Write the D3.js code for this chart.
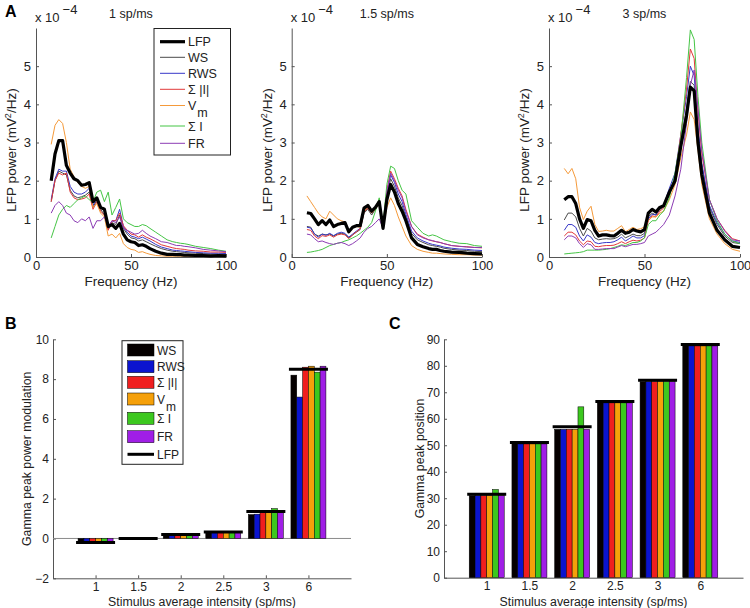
<!DOCTYPE html>
<html lang="en">
<head>
<meta charset="UTF-8" />
<title>LFP power spectra and gamma peak</title>
<script src="https://d3js.org/d3.v7.min.js"></script>
<style>
  body { margin: 0; background: #fff; }
  svg { font-family: "Liberation Sans", Arial, sans-serif; }
</style>
</head>
<body>
<svg width="750" height="608"></svg>
<script>
// frequencies (Hz) for panel A spectra, power in units of 1e-4 mV^2/Hz
const freqs = [8,10,12,14,16,18,20,22,24,26, 28,30,32,34,36,38,40,42,44,46,
  48,50,52,54,56,58,60,63,66,69, 72,74,76,78,80,84,88,92,96,100];

// 1 sp/ms
const lfp1  = [2.0,2.7,3.05,3.05,2.4,2.2,2.05,2.0,1.88,1.9, 1.95,1.45,1.55,1.3,1.25,0.8,0.85,0.75,0.88,0.6, 0.45,0.4,0.38,0.3,0.32,0.28,0.22,0.15,0.1,0.07, 0.07,0.06,0.06,0.05,0.05,0.04,0.04,0.03,0.04,0.03];
const ws1   = [1.45,2.0,2.25,2.2,2.15,1.75,1.6,1.55,1.58,1.62, 1.7,1.3,1.5,1.25,1.1,0.72,0.9,0.85,1.1,0.75, 0.6,0.5,0.48,0.42,0.45,0.4,0.35,0.28,0.22,0.18, 0.15,0.14,0.13,0.12,0.11,0.1,0.09,0.08,0.08,0.07];
const rws1  = [1.5,2.05,2.3,2.25,2.25,1.85,1.7,1.65,1.65,1.7, 1.8,1.35,1.55,1.3,1.2,0.75,0.95,0.95,1.25,0.8, 0.65,0.55,0.52,0.48,0.52,0.47,0.42,0.33,0.26,0.22, 0.18,0.17,0.16,0.15,0.14,0.12,0.11,0.1,0.1,0.09];
const absI1 = [1.45,2.0,2.2,2.15,2.2,1.7,1.55,1.5,1.52,1.55, 1.65,1.25,1.45,1.2,1.1,0.7,0.95,0.95,1.15,0.82, 0.7,0.6,0.58,0.52,0.58,0.52,0.48,0.4,0.32,0.28, 0.24,0.22,0.21,0.2,0.18,0.16,0.15,0.13,0.13,0.12];
const vm1   = [2.95,3.45,3.6,3.5,3.0,2.3,2.1,1.95,1.85,1.8, 1.85,1.3,1.4,1.15,1.05,0.55,0.6,0.5,0.62,0.35, 0.25,0.2,0.18,0.12,0.14,0.1,0.07,0.04,0.03,0.02, 0.02,0.02,0.02,0.02,0.02,0.02,0.02,0.02,0.02,0.02];
const sumI1 = [0.5,0.8,1.1,1.25,1.35,1.3,1.4,1.5,1.55,1.6, 1.5,1.45,1.7,1.75,1.45,1.7,1.1,1.3,1.52,1.0, 0.9,0.85,0.8,0.8,0.85,0.82,0.75,0.65,0.55,0.45, 0.4,0.38,0.36,0.35,0.33,0.28,0.25,0.22,0.18,0.15];
const fr1   = [1.15,1.35,1.45,1.35,1.15,1.1,0.95,0.9,1.0,0.95, 1.05,0.75,0.95,0.95,1.05,0.8,0.95,0.9,1.05,0.75, 0.7,0.65,0.6,0.62,0.7,0.62,0.55,0.48,0.4,0.38, 0.33,0.3,0.3,0.28,0.27,0.24,0.2,0.18,0.16,0.14];

// 1.5 sp/ms
const lfp15  = [1.16,1.14,1.0,0.85,0.95,0.85,0.97,0.8,0.85,0.88, 0.9,0.66,0.78,0.82,0.82,1.28,1.35,1.2,1.3,1.45, 0.75,1.5,1.9,1.7,1.4,1.2,0.95,0.5,0.33,0.27, 0.22,0.2,0.2,0.17,0.15,0.13,0.12,0.1,0.09,0.08];
const ws15   = [0.8,0.78,0.6,0.55,0.6,0.58,0.6,0.55,0.6,0.62, 0.6,0.5,0.58,0.65,0.72,1.15,1.25,1.1,1.25,1.4, 0.78,1.6,2.05,1.85,1.55,1.35,1.05,0.62,0.45,0.38, 0.32,0.3,0.28,0.26,0.23,0.2,0.18,0.17,0.15,0.14];
const rws15  = [0.78,0.76,0.6,0.52,0.6,0.57,0.62,0.56,0.62,0.65, 0.62,0.52,0.6,0.68,0.75,1.2,1.28,1.15,1.3,1.45, 0.8,1.65,2.15,1.95,1.65,1.45,1.12,0.68,0.5,0.42, 0.36,0.33,0.31,0.29,0.26,0.23,0.21,0.2,0.18,0.17];
const absI15 = [0.72,0.7,0.55,0.48,0.56,0.54,0.58,0.52,0.58,0.6, 0.58,0.48,0.58,0.66,0.74,1.18,1.28,1.15,1.32,1.5, 0.82,1.75,2.25,2.05,1.8,1.6,1.25,0.8,0.6,0.52, 0.45,0.42,0.4,0.38,0.35,0.3,0.28,0.27,0.25,0.24];
const vm15   = [1.6,1.45,1.3,1.15,1.05,1.0,1.2,1.1,1.0,0.95, 0.92,0.7,0.78,0.8,0.78,1.2,1.3,1.15,1.25,1.4, 0.75,1.3,1.55,1.35,1.05,0.8,0.55,0.3,0.2,0.15, 0.12,0.1,0.1,0.09,0.08,0.07,0.06,0.06,0.05,0.05];
const sumI15 = [0.12,0.13,0.15,0.17,0.2,0.25,0.3,0.33,0.36,0.38, 0.42,0.45,0.5,0.55,0.62,0.7,0.78,0.9,1.2,1.55, 0.85,1.9,2.38,2.32,2.0,1.75,1.65,0.95,0.78,0.62, 0.55,0.58,0.55,0.5,0.45,0.4,0.36,0.35,0.3,0.28];
const fr15   = [0.6,0.58,0.48,0.4,0.42,0.38,0.35,0.33,0.36,0.38, 0.35,0.3,0.35,0.42,0.5,0.65,0.75,0.8,0.9,1.0, 0.75,1.7,2.2,2.0,1.75,1.55,1.2,0.8,0.58,0.5, 0.45,0.43,0.4,0.38,0.35,0.3,0.28,0.26,0.25,0.25];

// 3 sp/ms
const lfp3  = [1.5,1.58,1.58,1.4,1.0,0.75,0.98,0.95,0.7,0.55, 0.58,0.58,0.56,0.55,0.62,0.7,0.62,0.65,0.72,0.68, 0.66,0.72,1.15,1.25,1.18,1.3,1.34,1.7,2.0,2.9, 3.7,4.45,4.35,3.0,2.15,1.15,0.7,0.45,0.28,0.25];
const ws3   = [0.97,1.15,1.15,1.05,0.75,0.55,0.75,0.68,0.5,0.45, 0.47,0.48,0.47,0.48,0.52,0.6,0.5,0.55,0.6,0.56, 0.56,0.62,1.05,1.15,1.1,1.25,1.3,1.65,2.0,3.0, 3.9,4.6,4.5,3.3,2.4,1.3,0.85,0.55,0.38,0.35];
const rws3  = [0.7,0.85,0.85,0.78,0.55,0.42,0.58,0.52,0.38,0.35, 0.37,0.38,0.38,0.4,0.45,0.52,0.42,0.48,0.55,0.5, 0.5,0.56,1.0,1.12,1.1,1.28,1.35,1.8,2.2,3.2, 4.2,5.0,4.75,3.4,2.45,1.35,0.9,0.6,0.42,0.38];
const absI3 = [0.55,0.65,0.65,0.58,0.42,0.32,0.42,0.4,0.28,0.27, 0.29,0.3,0.3,0.31,0.35,0.4,0.35,0.4,0.44,0.42, 0.44,0.5,0.95,1.08,1.05,1.2,1.28,1.65,2.1,3.2, 4.4,5.45,5.2,3.8,2.7,1.5,1.0,0.7,0.48,0.42];
const vm3   = [2.32,2.18,2.32,2.05,1.3,0.98,1.2,1.33,0.85,0.67, 0.68,0.7,0.68,0.68,0.75,0.82,0.66,0.72,0.78,0.72, 0.74,0.79,0.95,1.05,1.05,1.15,1.2,1.5,1.9,2.6, 3.2,3.8,3.6,2.8,1.9,1.0,0.6,0.35,0.2,0.15];
const sumI3 = [0.08,0.09,0.1,0.11,0.12,0.14,0.18,0.18,0.18,0.18, 0.19,0.2,0.22,0.25,0.28,0.32,0.3,0.34,0.38,0.38, 0.42,0.5,0.85,0.95,0.95,1.1,1.2,1.55,2.2,3.1, 4.7,5.95,5.7,4.2,3.0,1.5,0.95,0.6,0.42,0.35];
const fr3   = [0.45,0.55,0.55,0.5,0.35,0.25,0.35,0.32,0.2,0.2, 0.21,0.22,0.22,0.22,0.26,0.3,0.27,0.3,0.33,0.33, 0.35,0.38,0.55,0.6,0.65,0.75,0.85,1.1,1.6,2.3, 3.5,4.5,4.9,3.9,2.8,1.5,1.0,0.68,0.45,0.42];

// panels B and C
const intensities = ["1", "1.5", "2", "2.5", "3", "6"];
const proxyNames = ["WS", "RWS", "absI", "Vm", "sumI", "FR"];

const modWS   = [-0.22, 0.02, 0.15, 0.3, 1.2, 8.2];
const modRWS  = [-0.22, 0.02, 0.15, 0.3, 1.22, 7.1];
const modAbsI = [-0.26, 0.03, 0.18, 0.32, 1.4, 8.6];
const modVm   = [-0.2, 0.03, 0.25, 0.35, 1.4, 8.65];
const modSumI = [-0.15, 0.03, 0.2, 0.32, 1.5, 8.35];
const modFR   = [-0.2, 0.03, 0.25, 0.33, 1.4, 8.65];
const modLFP  = [-0.2, 0.0, 0.2, 0.33, 1.35, 8.5];

const posWS   = [31, 50.5, 56, 66, 74, 87.5];
const posRWS  = [31, 50.5, 56, 66, 74, 87.5];
const posAbsI = [31, 50.5, 56, 66, 74, 87.5];
const posVm   = [31, 50.5, 56, 66, 74, 87.5];
const posSumI = [33.3, 50.5, 64.5, 66, 74, 87.5];
const posFR   = [31, 50.5, 56, 66, 74, 87.5];
const posLFP  = [31.5, 51, 57, 66.5, 74.5, 88];

const lineColors = { LFP: "#000", WS: "#4a4a4a", RWS: "#3838c8", absI: "#e23a3a", Vm: "#f59a3a", sumI: "#45c545", FR: "#8c3cb4" };
const barColors = { WS: "#050000", RWS: "#0b14cf", absI: "#f01e1e", Vm: "#f5a00a", sumI: "#3cc81e", FR: "#a01ee6" };

const svg = d3.select("svg");
const axisColor = "#555";
const textColor = "#222";

function styleAxis(size) {
  return g => {
    g.select(".domain").attr("stroke", axisColor);
    g.selectAll(".tick line").attr("stroke", axisColor);
    g.selectAll(".tick text").attr("fill", textColor).style("font-size", size);
  };
}

// legend label with Σ / subscript m
function labelText(sel, name) {
  if (name === "Vm") {
    sel.text("V");
    sel.append("tspan").attr("dy", 7).attr("dx", 1).text("m");
  } else if (name === "absI") sel.text("\u03A3 |I|");
  else if (name === "sumI") sel.text("\u03A3 I");
  else sel.text(name);
}

// ---------- panel A ----------
const yA = d3.scaleLinear().domain([0, 6]).range([257, 28]);

const aPanels = [
  { left: 36, right: 226, title: "1 sp/ms",
    series: { WS: ws1, RWS: rws1, absI: absI1, Vm: vm1, sumI: sumI1, FR: fr1, LFP: lfp1 }, legend: true },
  { left: 291.7, right: 482, title: "1.5 sp/ms",
    series: { WS: ws15, RWS: rws15, absI: absI15, Vm: vm15, sumI: sumI15, FR: fr15, LFP: lfp15 } },
  { left: 549, right: 740, title: "3 sp/ms",
    series: { WS: ws3, RWS: rws3, absI: absI3, Vm: vm3, sumI: sumI3, FR: fr3, LFP: lfp3 } }
];

aPanels.forEach(p => {
  const x = d3.scaleLinear().domain([0, 100]).range([p.left, p.right]);
  const g = svg.append("g");

  g.append("g").attr("transform", `translate(${p.left},0)`)
    .call(d3.axisLeft(yA).tickValues([0, 1, 2, 3, 4, 5]).tickFormat(d3.format("d"))
      .tickSize(-3).tickSizeOuter(0).tickPadding(5))
    .call(styleAxis("13px"));
  g.append("g").attr("transform", `translate(0,${yA(0)})`)
    .call(d3.axisBottom(x).tickValues([0, 50, 100]).tickSize(-3).tickSizeOuter(0).tickPadding(4))
    .call(styleAxis("13px"));

  const line = d3.line().x((d, i) => x(freqs[i])).y(d => yA(d));
  ["WS", "RWS", "absI", "Vm", "sumI", "FR", "LFP"].forEach(k => {
    g.append("path").datum(p.series[k])
      .attr("d", line).attr("fill", "none")
      .attr("stroke", lineColors[k])
      .attr("stroke-width", k === "LFP" ? 3.2 : 1)
      .attr("stroke-linejoin", "round");
  });

  // exponent
  const ex = g.append("text").attr("x", p.left - 1).attr("y", 22)
    .attr("fill", textColor).style("font-size", "13px").text("x 10");
  ex.append("tspan").attr("dy", -8).attr("dx", 3).text("\u22124");

  g.append("text").attr("x", (p.left + p.right) / 2).attr("y", 18)
    .attr("text-anchor", "middle").attr("fill", textColor).style("font-size", "12.5px").text(p.title);

  g.append("text").attr("x", (p.left + p.right) / 2).attr("y", 286)
    .attr("text-anchor", "middle").attr("fill", textColor).style("font-size", "13.5px").text("Frequency (Hz)");

  const yl = g.append("text").attr("transform", `translate(${p.left - 20},150) rotate(-90)`)
    .attr("text-anchor", "middle").attr("fill", textColor).style("font-size", "13.5px").text("LFP power (mV");
  yl.append("tspan").attr("dy", -5).style("font-size", "9px").text("2");
  yl.append("tspan").attr("dy", 5).text("/Hz)");

  if (p.legend) {
    const lg = g.append("g");
    lg.append("rect").attr("x", 154).attr("y", 28.5).attr("width", 76.5).attr("height", 126.5)
      .attr("fill", "#fff").attr("stroke", "#222").attr("stroke-width", 1);
    const order = ["LFP", "WS", "RWS", "absI", "Vm", "sumI", "FR"];
    const ys = [41.7, 57.3, 73.3, 89.3, 105.5, 126, 143.3];
    order.forEach((k, i) => {
      lg.append("line").attr("x1", 160).attr("x2", 185).attr("y1", ys[i]).attr("y2", ys[i])
        .attr("stroke", lineColors[k]).attr("stroke-width", k === "LFP" ? 3.2 : 1);
      const t = lg.append("text").attr("x", 188).attr("y", ys[i] + 4.5)
        .attr("fill", textColor).style("font-size", "12.5px");
      labelText(t, k);
    });
  }
});

svg.append("text").attr("x", 5).attr("y", 17).style("font-size", "16px").style("font-weight", "bold").text("A");
svg.append("text").attr("x", 5).attr("y", 329).style("font-size", "16px").style("font-weight", "bold").text("B");
svg.append("text").attr("x", 389).attr("y", 329).style("font-size", "16px").style("font-weight", "bold").text("C");

// ---------- bar panels ----------
function barPanel(opt) {
  const x = d3.scaleLinear().domain([0, 7]).range([opt.left, opt.right]);
  const y = d3.scaleLinear().domain(opt.domain).range([opt.bottom, opt.top]);
  const inner = d3.scaleBand().domain(proxyNames).range([-17.5, 17.5]);
  const g = svg.append("g");

  g.append("g").attr("transform", `translate(${opt.left},0)`)
    .call(d3.axisLeft(y).tickValues(opt.ticks).tickSize(-3).tickSizeOuter(0).tickPadding(4))
    .call(styleAxis("12px"));
  g.append("g").attr("transform", `translate(0,${opt.bottom})`)
    .call(d3.axisBottom(x).tickValues([1, 2, 3, 4, 5, 6]).tickFormat(d => intensities[d - 1])
      .tickSize(-3).tickSizeOuter(0).tickPadding(4))
    .call(styleAxis("12px"));

  if (opt.domain[0] < 0) {
    g.append("line").attr("x1", opt.left).attr("x2", opt.right).attr("y1", y(0)).attr("y2", y(0))
      .attr("stroke", "#8a8a8a").attr("stroke-width", 1);
  }

  intensities.forEach((lab, i) => {
    const cx = x(i + 1);
    proxyNames.forEach(k => {
      const v = opt.values[k][i];
      g.append("rect")
        .attr("x", cx + inner(k)).attr("width", inner.bandwidth())
        .attr("y", Math.min(y(v), y(0))).attr("height", Math.max(Math.abs(y(v) - y(0)), 0.5))
        .attr("fill", barColors[k]).attr("stroke", "#000").attr("stroke-width", 0.5);
    });
    g.append("line").attr("x1", cx - 19.5).attr("x2", cx + 19.5)
      .attr("y1", y(opt.values.LFP[i])).attr("y2", y(opt.values.LFP[i]))
      .attr("stroke", "#000").attr("stroke-width", 3);
  });

  g.append("text").attr("x", (opt.left + opt.right) / 2).attr("y", 606)
    .attr("text-anchor", "middle").attr("fill", textColor).style("font-size", "12.3px")
    .text("Stimulus average intensity (sp/ms)");
  g.append("text").attr("transform", `translate(${opt.ylabelX},${(opt.top + opt.bottom) / 2}) rotate(-90)`)
    .attr("text-anchor", "middle").attr("fill", textColor).style("font-size", "12.3px").text(opt.ylabel);
  return g;
}

const gB = barPanel({
  left: 53, right: 351, top: 339.3, bottom: 578.3, domain: [-2, 10], ticks: [-2, 0, 2, 4, 6, 8, 10],
  values: { WS: modWS, RWS: modRWS, absI: modAbsI, Vm: modVm, sumI: modSumI, FR: modFR, LFP: modLFP },
  ylabel: "Gamma peak power modulation", ylabelX: 31
});

barPanel({
  left: 444, right: 743, top: 339.3, bottom: 577.7, domain: [0, 90], ticks: d3.range(0, 91, 10),
  values: { WS: posWS, RWS: posRWS, absI: posAbsI, Vm: posVm, sumI: posSumI, FR: posFR, LFP: posLFP },
  ylabel: "Gamma peak position", ylabelX: 424
});

// legend B
const lgB = gB.append("g");
lgB.append("rect").attr("x", 122).attr("y", 340.7).attr("width", 61).attr("height", 123.6)
  .attr("fill", "#fff").attr("stroke", "#222").attr("stroke-width", 1);
const bOrder = ["WS", "RWS", "absI", "Vm", "sumI", "FR", "LFP"];
const bYs = [350, 366.7, 382.3, 399, 418.3, 436.7, 454.3];
bOrder.forEach((k, i) => {
  if (k === "LFP") {
    lgB.append("line").attr("x1", 127.5).attr("x2", 154).attr("y1", bYs[i]).attr("y2", bYs[i])
      .attr("stroke", "#000").attr("stroke-width", 3);
  } else {
    lgB.append("rect").attr("x", 127.5).attr("y", bYs[i] - 6).attr("width", 26.5).attr("height", 12)
      .attr("fill", barColors[k]).attr("stroke", "#000").attr("stroke-width", 0.5);
  }
  const t = lgB.append("text").attr("x", 157).attr("y", bYs[i] + 4.5)
    .attr("fill", textColor).style("font-size", "12px");
  labelText(t, k);
});
</script>
</body>
</html>
